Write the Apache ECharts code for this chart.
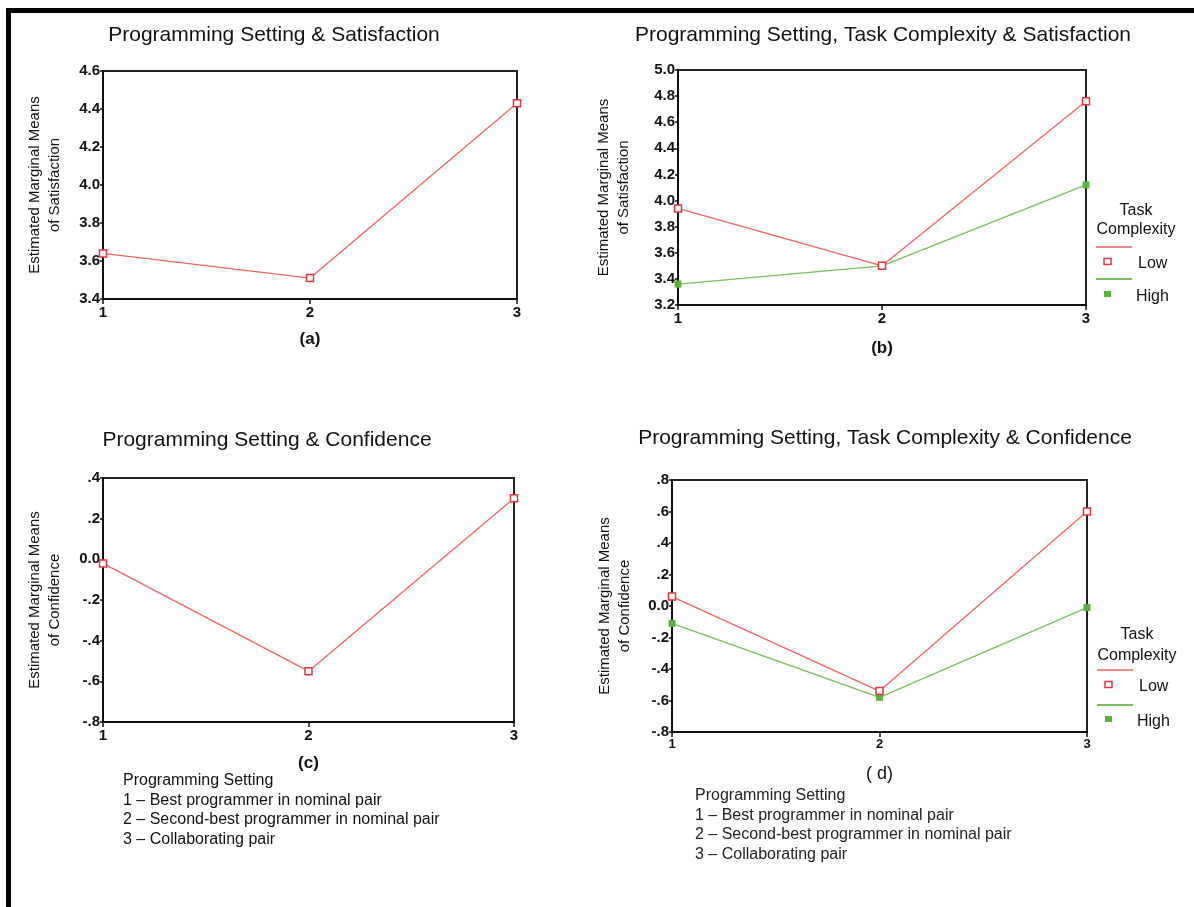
<!DOCTYPE html>
<html>
<head>
<meta charset="utf-8">
<script src="https://cdn.jsdelivr.net/npm/echarts@6/dist/echarts.min.js"></script>
<style>
html,body{margin:0;padding:0;background:#fff;}
#chart{width:1194px;height:907px;}
</style>
</head>
<body>
<div id="chart"></div>
<script>
// ---- data ----
const settings = [1, 2, 3];
const satisfactionA = [3.64, 3.51, 4.43];
const satisfactionLow = [3.94, 3.50, 4.76];
const satisfactionHigh = [3.36, 3.50, 4.12];
const confidenceC = [-0.02, -0.55, 0.30];
const confidenceLow = [0.06, -0.54, 0.60];
const confidenceHigh = [-0.11, -0.58, -0.01];
const complexityLevels = ['Low', 'High'];
const panelTitles = [
  'Programming Setting & Satisfaction',
  'Programming Setting, Task Complexity & Satisfaction',
  'Programming Setting & Confidence',
  'Programming Setting, Task Complexity & Confidence'
];
const panelLetters = ['(a)', '(b)', '(c)', '( d)'];
const noteLines = [
  'Programming Setting',
  '1 \u2013 Best programmer in nominal pair',
  '2 \u2013 Second-best programmer in nominal pair',
  '3 \u2013 Collaborating pair'
];

const FONT = '"Liberation Sans", Arial, sans-serif';
const RED_LINE = '#f06464';
const RED_MARK = '#e8343c';
const GREEN_LINE = '#78c058';
const GREEN_MARK = '#5ab43c';

function pts(arr) { return settings.map((x, i) => [x, arr[i]]); }
function satFmt(v) { return v.toFixed(1); }
function confFmt(v) {
  if (Math.abs(v) < 1e-9) return '0.0';
  return v.toFixed(1).replace('0.', '.');
}

const grids = [
  { left: 103, top: 71, width: 414, height: 228 },
  { left: 678, top: 70, width: 408, height: 235 },
  { left: 103, top: 478, width: 411, height: 244 },
  { left: 672, top: 480, width: 415, height: 252 }
];
const letterGaps = [32, 35, 33, 33];

const yRanges = [
  { min: 3.4, max: 4.6, interval: 0.2, fmt: satFmt, name: 'Estimated Marginal Means\nof Satisfaction', gap: 38 },
  { min: 3.2, max: 5.0, interval: 0.2, fmt: satFmt, name: 'Estimated Marginal Means\nof Satisfaction', gap: 44 },
  { min: -0.8, max: 0.4, interval: 0.2, fmt: confFmt, name: 'Estimated Marginal Means\nof Confidence', gap: 38 },
  { min: -0.8, max: 0.8, interval: 0.2, fmt: confFmt, name: 'Estimated Marginal Means\nof Confidence', gap: 37 }
];

const option = {
  animation: false,
  backgroundColor: '#fff',
  grid: grids.map(g => Object.assign({ show: true, borderColor: '#222', borderWidth: 2, backgroundColor: 'transparent' }, g)),
  xAxis: grids.map((g, i) => ({
    type: 'value', gridIndex: i, min: 1, max: 3, interval: 1,
    axisLine: { show: true, onZero: false, lineStyle: { color: '#111', width: 2 } },
    axisTick: { show: true, length: 5, lineStyle: { color: '#111', width: 1.5 } },
    splitLine: { show: false },
    axisLabel: { margin: 6, color: '#111', fontSize: i === 3 ? 13 : 15, fontWeight: 'bold', fontFamily: FONT, formatter: v => String(v) },
    name: panelLetters[i], nameLocation: 'middle', nameGap: letterGaps[i],
    nameTextStyle: { color: '#111', fontSize: i === 3 ? 18 : 17, fontWeight: i === 3 ? 'normal' : 'bold', fontFamily: FONT }
  })),
  yAxis: yRanges.map((r, i) => ({
    type: 'value', gridIndex: i, min: r.min, max: r.max, interval: r.interval,
    axisLine: { show: true, onZero: false, lineStyle: { color: '#111', width: 2 } },
    axisTick: { show: true, length: 3, lineStyle: { color: '#111', width: 1.5 } },
    splitLine: { show: false },
    axisLabel: { margin: 3, color: '#111', fontSize: 15, fontWeight: 'bold', fontFamily: FONT, formatter: r.fmt },
    name: r.name, nameLocation: 'middle', nameRotate: 90, nameGap: r.gap,
    nameTextStyle: { color: '#111', fontSize: 15, lineHeight: 20, fontFamily: FONT }
  })),
  series: [
    { name: 'A', type: 'line', xAxisIndex: 0, yAxisIndex: 0, data: pts(satisfactionA),
      symbol: 'rect', symbolSize: 7, lineStyle: { color: RED_LINE, width: 1.3 },
      itemStyle: { color: '#fff', borderColor: RED_MARK, borderWidth: 1.5 } },
    { name: complexityLevels[0], type: 'line', xAxisIndex: 1, yAxisIndex: 1, data: pts(satisfactionLow),
      symbol: 'rect', symbolSize: 7, lineStyle: { color: RED_LINE, width: 1.3 },
      itemStyle: { color: '#fff', borderColor: RED_MARK, borderWidth: 1.5 }, z: 3 },
    { name: complexityLevels[1], type: 'line', xAxisIndex: 1, yAxisIndex: 1, data: pts(satisfactionHigh),
      symbol: 'rect', symbolSize: 7, lineStyle: { color: GREEN_LINE, width: 1.3 },
      itemStyle: { color: GREEN_MARK }, z: 2 },
    { name: 'C', type: 'line', xAxisIndex: 2, yAxisIndex: 2, data: pts(confidenceC),
      symbol: 'rect', symbolSize: 7, lineStyle: { color: RED_LINE, width: 1.3 },
      itemStyle: { color: '#fff', borderColor: RED_MARK, borderWidth: 1.5 } },
    { name: complexityLevels[0], type: 'line', xAxisIndex: 3, yAxisIndex: 3, data: pts(confidenceLow),
      symbol: 'rect', symbolSize: 7, lineStyle: { color: RED_LINE, width: 1.3 },
      itemStyle: { color: '#fff', borderColor: RED_MARK, borderWidth: 1.5 }, z: 3 },
    { name: complexityLevels[1], type: 'line', xAxisIndex: 3, yAxisIndex: 3, data: pts(confidenceHigh),
      symbol: 'rect', symbolSize: 7, lineStyle: { color: GREEN_LINE, width: 1.3 },
      itemStyle: { color: GREEN_MARK }, z: 2 }
  ],
  graphic: []
};

const G = option.graphic;
// page frame
G.push({ type: 'rect', shape: { x: 6, y: 8, width: 1188, height: 5 }, style: { fill: '#000' } });
G.push({ type: 'rect', shape: { x: 6, y: 8, width: 5, height: 899 }, style: { fill: '#000' } });

// titles
const titlePos = [[274, 35], [883, 35], [267, 440], [885, 438]];
panelTitles.forEach((t, i) => {
  G.push({ type: 'text', x: titlePos[i][0], y: titlePos[i][1],
    style: { text: t, fill: '#111', fontSize: 21, fontFamily: FONT, align: 'center', verticalAlign: 'middle' } });
});

// notes
G.push({ type: 'text', x: 123, y: 771,
  style: { text: noteLines.join('\n'), fill: '#111', fontSize: 16, lineHeight: 19.5, fontFamily: FONT, align: 'left', verticalAlign: 'top' } });
G.push({ type: 'text', x: 695, y: 786,
  style: { text: noteLines.join('\n'), fill: '#222', fontSize: 16, lineHeight: 19.5, fontFamily: FONT, align: 'left', verticalAlign: 'top' } });

// legends
function legend(x0, yTask, yComp, yRedLine, yLow, yGreenLine, yHigh) {
  G.push({ type: 'text', x: x0 + 40, y: yTask, style: { text: 'Task', fill: '#111', fontSize: 16, fontFamily: FONT, align: 'center', verticalAlign: 'middle' } });
  G.push({ type: 'text', x: x0 + 40, y: yComp, style: { text: 'Complexity', fill: '#111', fontSize: 16, fontFamily: FONT, align: 'center', verticalAlign: 'middle' } });
  G.push({ type: 'line', shape: { x1: x0, y1: yRedLine, x2: x0 + 36, y2: yRedLine }, style: { stroke: RED_LINE, lineWidth: 1.5 } });
  G.push({ type: 'rect', shape: { x: x0 + 8, y: yLow - 3.5, width: 7, height: 6 }, style: { fill: '#fff', stroke: RED_MARK, lineWidth: 1.5 } });
  G.push({ type: 'text', x: x0 + 42, y: yLow + 2, style: { text: complexityLevels[0], fill: '#111', fontSize: 16, fontFamily: FONT, align: 'left', verticalAlign: 'middle' } });
  G.push({ type: 'line', shape: { x1: x0, y1: yGreenLine, x2: x0 + 36, y2: yGreenLine }, style: { stroke: GREEN_LINE, lineWidth: 2 } });
  G.push({ type: 'rect', shape: { x: x0 + 8, y: yHigh - 3, width: 7, height: 6 }, style: { fill: GREEN_MARK } });
  G.push({ type: 'text', x: x0 + 40, y: yHigh + 3, style: { text: complexityLevels[1], fill: '#111', fontSize: 16, fontFamily: FONT, align: 'left', verticalAlign: 'middle' } });
}
legend(1096, 211, 230, 247, 262, 279, 294);
legend(1097, 635, 656, 670, 685, 705, 719);

const chart = echarts.init(document.getElementById('chart'), null, { renderer: 'canvas' });
chart.setOption(option);
</script>
</body>
</html>
